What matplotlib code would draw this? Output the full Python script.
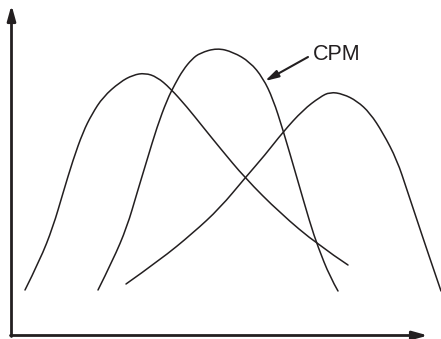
import matplotlib
matplotlib.use("Agg")
import matplotlib.pyplot as plt
from matplotlib.path import Path
from matplotlib.patches import PathPatch

plt.rcParams['font.family'] = ['Liberation Sans', 'DejaVu Sans']

# curve samples (x, y in picture units, y grows downward)
left_x = [25, 40, 53, 63, 73, 83, 92, 103, 120, 133, 145, 157, 170, 187, 203, 220, 245, 280, 318, 348]
left_y = [290, 260, 227, 193, 160, 132, 114, 97, 82, 75, 73, 77, 88, 107, 127, 148, 178, 213, 245, 265]

cpm_x = [98, 113, 127, 137, 147, 157, 167, 175, 183, 192, 200, 217, 233, 250, 263, 273, 283, 297, 310, 318, 330, 338]
cpm_y = [290, 260, 227, 193, 160, 127, 100, 84, 70, 59, 53, 48, 52, 62, 78, 99, 130, 178, 223, 247, 277, 291]

right_x = [126, 160, 193, 220, 245, 265, 283, 303, 320, 330, 343, 357, 370, 383, 397, 407, 417, 427, 441]
right_y = [284, 260, 233, 208, 178, 155, 132, 110, 97, 92, 94, 101, 113, 133, 160, 190, 220, 250, 291]

label = "CPM"

ink = '#231f20'


def smooth_path(xs, ys):
    # quadratic segments through midpoints, samples act as control points
    pts = list(zip(xs, ys))
    verts = [pts[0]]
    codes = [Path.MOVETO]
    for i in range(1, len(pts) - 1):
        mid = ((pts[i][0] + pts[i + 1][0]) / 2, (pts[i][1] + pts[i + 1][1]) / 2)
        if i == len(pts) - 2:
            mid = pts[-1]
        verts += [pts[i], mid]
        codes += [Path.CURVE3, Path.CURVE3]
    return Path(verts, codes)


fig = plt.figure(figsize=(4.41, 3.39), dpi=100)
ax = fig.add_axes([0, 0, 1, 1])
ax.set_xlim(0, 441)
ax.set_ylim(339, 0)
ax.axis('off')

for xs, ys in [(left_x, left_y), (cpm_x, cpm_y), (right_x, right_y)]:
    ax.add_patch(PathPatch(smooth_path(xs, ys), fill=False, edgecolor=ink,
                           lw=1.1, capstyle='round', joinstyle='round'))

# axes with arrow heads
ax.annotate('', xy=(11.5, 5), xytext=(11.5, 336.5),
            arrowprops=dict(arrowstyle='-|>,head_length=0.9,head_width=0.25',
                            color=ink, lw=2, shrinkA=0, shrinkB=0))
ax.annotate('', xy=(428, 335.5), xytext=(10.5, 335.5),
            arrowprops=dict(arrowstyle='-|>,head_length=0.9,head_width=0.25',
                            color=ink, lw=2, shrinkA=0, shrinkB=0))

# CPM label with pointer
ax.text(313, 54, label, fontsize=15.5, color=ink, va='center', ha='left')
ax.annotate('', xy=(265, 81), xytext=(308, 57),
            arrowprops=dict(arrowstyle='-|>,head_length=0.8,head_width=0.22',
                            color=ink, lw=1.5, shrinkA=0, shrinkB=0))

fig.savefig('out.png', dpi=100)
